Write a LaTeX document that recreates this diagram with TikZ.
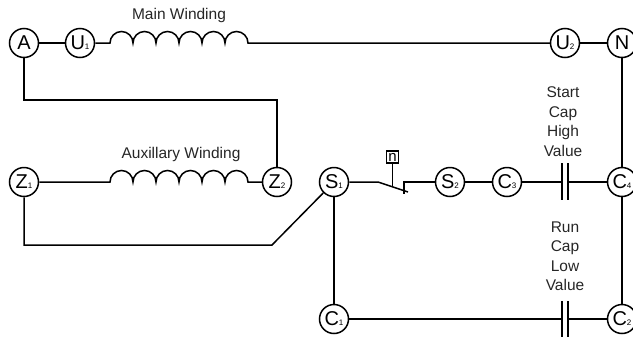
\documentclass[tikz,border=0pt]{standalone}
\usepackage{fontspec}
\setmainfont{Liberation Sans}
\usetikzlibrary{positioning,calc}
\newcommand{\subnum}[1]{{\fontsize{8pt}{8pt}\selectfont #1}}
\newcommand{\coil}{arc (180:360:11.5) arc (180:360:11.5) arc (180:360:11.5) arc (180:360:11.5) arc (180:360:11.5) arc (180:360:11.5)}
\begin{document}
\begin{tikzpicture}[ x=1pt, y=-1pt,
      term/.style={circle, draw=black, line width=1.5pt, fill=white, minimum
      size=29pt, inner sep=0pt, font=\fontsize{20pt}{20pt}\selectfont},
      wire/.style={line width=1.5pt, black},
      plate/.style={line width=1.5pt, black},
      caption/.style={font=\fontsize{15.5pt}{19.5pt}\selectfont, text=black!85, align=center},
      relay/.style={draw=black, line width=1.2pt, minimum size=12pt, inner sep=0pt,
      font=\fontsize{15pt}{15pt}\selectfont} ]

    \useasboundingbox (0,0) rectangle (633,338);
    \clip (0,0) rectangle (633,338);

    % Terminals
    \node[term] (A) at (24,43) {A}; \node[term] (U1) at (80,43) {U\subnum{1}};
    \node[term] (U2) at (565,43) {U\subnum{2}}; \node[term] (N) at (622,43) {N};
    \node[term] (Z1) at (24,182) {Z\subnum{1}}; \node[term] (Z2) at (277,182) {Z\subnum{2}};
    \node[term] (S1) at (334,182) {S\subnum{1}}; \node[term] (S2) at (450,182) {S\subnum{2}};
    \node[term] (C3) at (507,182) {C\subnum{3}}; \node[term] (C4) at (622,182) {C\subnum{4}};
    \node[term] (C1) at (334,319) {C\subnum{1}}; \node[term] (C2) at (622,319) {C\subnum{2}};

    % Points on the wires
    \coordinate (mainL) at (110,43); \coordinate (mainR) at (248,43);
    \coordinate (auxL) at (110,182); \coordinate (auxR) at (248,182);
    \coordinate (swL) at (378,182); \coordinate (swR) at (408,192);
    \coordinate (swC) at (404,182); \coordinate (swB) at (404,194);
    \coordinate (swS) at (392.5,186);
    \coordinate (crossA) at (24,100); \coordinate (crossZ) at (277,100);
    \coordinate (lowZ) at (24,245); \coordinate (lowS) at (272,245);
    \coordinate (startT) at (562,163); \coordinate (startB) at (562,200);
    \coordinate (runT) at (562,301); \coordinate (runB) at (562,337);

    % Windings
    \draw[wire] (U1) -- (mainL) \coil -- (U2);
    \draw[wire] (Z1) -- (auxL) \coil -- (Z2);
    \node[caption] (mainlabel) at (179,15) {Main Winding};
    \node[caption] (auxlabel) at (181,154) {Auxillary Winding};

    % Outer wiring
    \draw[wire] (A) -- (U1); \draw[wire] (U2) -- (N);
    \draw[wire] (N) -- (C4); \draw[wire] (C4) -- (C2);
    \draw[wire] (A) -- (crossA) -- (crossZ) -- (Z2);
    \draw[wire] (Z1) -- (lowZ) -- (lowS) -- (S1);
    \draw[wire] (S1) -- (C1); \draw[wire] (S2) -- (C3);

    % Switch
    \node[relay] (relay) at (392.5,157) {n};
    \draw[wire] (S1) -- (swL) -- (swR);
    \draw[wire] (relay) -- (swS);
    \draw[wire] (S2) -- (swC) -- (swB);

    % Capacitors
    \draw[wire] (C3) -- (startT |- C3); \draw[wire] (C4) -- ($(startT |- C4)+(6,0)$);
    \draw[plate] (startT) -- (startB); \draw[plate] ($(startT)+(6,0)$) -- ($(startB)+(6,0)$);
    \draw[wire] (C1) -- (runT |- C1); \draw[wire] (C2) -- ($(runT |- C2)+(6,0)$);
    \draw[plate] (runT) -- (runB); \draw[plate] ($(runT)+(6,0)$) -- ($(runB)+(6,0)$);

    % Capacitor labels
    \node[caption] (startlabel) at (563,121.5) {Start\hspace{5pt}\\Cap\\High\\Value};
    \node[caption] (runlabel) at (565,256) {Run\\Cap\\Low\\Value};

\end{tikzpicture}
\end{document}
